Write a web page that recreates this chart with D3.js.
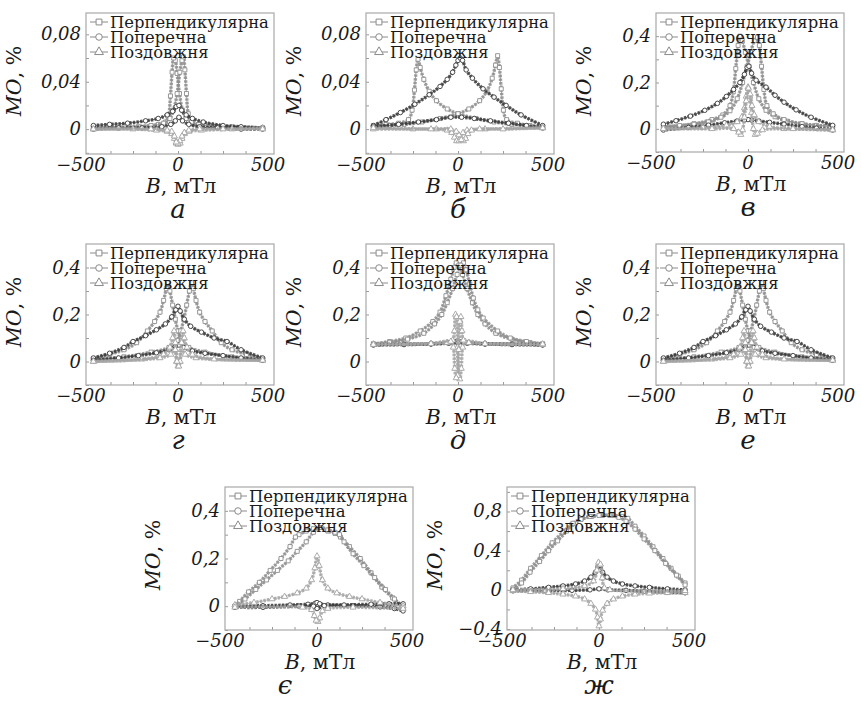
<!DOCTYPE html>
<html>
<head>
<meta charset="utf-8">
<script src="https://cdn.jsdelivr.net/npm/d3@7"></script>
<style>
body { margin: 0; background: #fff; }
svg text { font-family: "DejaVu Serif", serif; fill: #1a1a1a; }
</style>
</head>
<body>
<svg id="fig" width="861" height="702"></svg>
<script>
// series names (legend) and x tick labels
var seriesNames = ["Перпендикулярна", "Поперечна", "Поздовжня"];
var xTickLabels = [-500, 0, 500];

// ---- panel а : [B (мТл), MO (%)] per sweep branch ----
var aPerp = [
  [[470,0.001],[300,0.002],[150,0.003],[80,0.005],[45,0.009],[25,0.016],[8,0.03],[-5,0.047],[-15,0.058],[-24,0.06],[-33,0.048],[-42,0.028],[-52,0.012],[-70,0.006],[-110,0.004],[-220,0.002],[-470,0.001]],
  [[-470,0.001],[-300,0.002],[-150,0.003],[-80,0.005],[-45,0.009],[-25,0.016],[-5,0.03],[10,0.048],[22,0.058],[30,0.061],[38,0.05],[47,0.03],[57,0.013],[75,0.006],[115,0.004],[220,0.002],[470,0.001]]
];
var aTrans = [
  [[-470,0.003],[-380,0.004],[-280,0.005],[-180,0.007],[-110,0.009],[-60,0.012],[-30,0.015],[-10,0.019],[5,0.02],[20,0.016],[45,0.012],[80,0.009],[140,0.006],[250,0.003],[350,0.002],[470,0.001]],
  [[470,0.0],[350,0.0],[220,0.001],[120,0.002],[60,0.004],[25,0.007],[5,0.01],[-15,0.007],[-40,0.004],[-90,0.002],[-200,0.001],[-330,0.001],[-470,0.0]]
];
var aLong = [
  [[-470,0.0],[-250,0.0],[-120,-0.001],[-60,-0.002],[-35,-0.004],[-20,-0.008],[-10,-0.012],[0,-0.013],[12,-0.012],[22,-0.008],[35,-0.004],[60,-0.002],[130,-0.001],[300,0.0],[470,0.001]],
  [[470,0.0],[250,0.0],[120,0.0],[60,-0.001],[35,-0.003],[22,-0.006],[10,-0.01],[0,-0.012],[-10,-0.011],[-20,-0.006],[-35,-0.002],[-60,-0.001],[-150,0.0],[-470,0.0]]
];

// ---- panel б ----
var bPerp = [
  [[470,0.002],[380,0.003],[300,0.004],[200,0.006],[100,0.009],[0,0.013],[-60,0.017],[-120,0.024],[-160,0.032],[-190,0.042],[-210,0.052],[-222,0.059],[-232,0.05],[-242,0.033],[-255,0.016],[-275,0.008],[-330,0.005],[-400,0.004],[-470,0.003]],
  [[-470,0.002],[-380,0.003],[-300,0.004],[-200,0.006],[-100,0.009],[0,0.013],[60,0.017],[120,0.024],[160,0.032],[190,0.043],[208,0.054],[220,0.062],[230,0.052],[240,0.034],[252,0.016],[270,0.008],[330,0.005],[400,0.003],[470,0.002]]
];
var bTrans = [
  [[-470,0.003],[-400,0.008],[-320,0.014],[-240,0.021],[-160,0.029],[-100,0.036],[-60,0.042],[-30,0.048],[-12,0.054],[0,0.058],[12,0.06],[25,0.058],[45,0.05],[80,0.043],[139,0.034],[200,0.027],[267,0.02],[350,0.012],[470,0.003]],
  [[470,0.001],[380,0.003],[280,0.005],[180,0.007],[90,0.009],[20,0.01],[-40,0.01],[-120,0.008],[-220,0.006],[-330,0.004],[-470,0.002]]
];
var bLong = [
  [[-470,0.0],[-250,0.0],[-120,0.0],[-60,-0.001],[-35,-0.003],[-20,-0.007],[-8,-0.01],[5,-0.01],[15,-0.007],[28,-0.003],[50,-0.001],[150,0.0],[470,0.001]],
  [[470,0.001],[250,0.0],[120,0.0],[75,-0.001],[55,-0.004],[42,-0.008],[30,-0.01],[18,-0.009],[5,-0.005],[-10,-0.002],[-40,0.0],[-150,0.0],[-470,0.001]]
];

// ---- panel в ----
var cPerp = [
  [[470,0.01],[380,0.015],[300,0.022],[220,0.033],[150,0.052],[100,0.08],[60,0.13],[30,0.2],[5,0.27],[-15,0.33],[-32,0.38],[-45,0.4],[-55,0.36],[-68,0.26],[-82,0.16],[-100,0.1],[-140,0.06],[-200,0.04],[-300,0.022],[-470,0.008]],
  [[-470,0.008],[-380,0.014],[-300,0.02],[-220,0.03],[-150,0.05],[-100,0.078],[-60,0.13],[-30,0.2],[-5,0.27],[15,0.33],[35,0.38],[52,0.395],[63,0.36],[75,0.27],[88,0.17],[105,0.1],[140,0.065],[200,0.04],[300,0.022],[470,0.01]]
];
var cTrans = [
  [[-470,0.02],[-400,0.035],[-320,0.055],[-240,0.08],[-170,0.11],[-120,0.14],[-80,0.17],[-45,0.2],[-20,0.235],[-5,0.265],[5,0.27],[20,0.24],[45,0.21],[100,0.18],[150,0.145],[200,0.115],[267,0.082],[350,0.05],[470,0.015]],
  [[470,-0.005],[380,0.003],[300,0.01],[200,0.02],[120,0.028],[60,0.034],[20,0.038],[0,0.04],[-20,0.038],[-60,0.034],[-130,0.026],[-220,0.016],[-330,0.006],[-470,-0.005]]
];
var cLong = [
  [[-470,0.0],[-250,0.005],[-120,0.015],[-60,0.03],[-35,0.05],[-20,0.09],[-10,0.14],[0,0.18],[10,0.14],[20,0.07],[30,0.0],[40,-0.025],[52,-0.02],[80,-0.005],[200,0.0],[470,-0.005]],
  [[470,-0.005],[250,0.0],[120,0.01],[60,0.03],[35,0.06],[22,0.1],[12,0.15],[2,0.175],[-10,0.12],[-20,0.05],[-30,-0.005],[-40,-0.025],[-52,-0.015],[-80,0.0],[-200,0.0],[-470,0.0]]
];

// ---- panel г (panel е shows the same curves) ----
var dPerp = [
  [[-470,0.01],[-380,0.03],[-300,0.05],[-230,0.08],[-170,0.13],[-130,0.17],[-100,0.21],[-80,0.26],[-65,0.31],[-55,0.335],[-45,0.3],[-30,0.24],[-15,0.18],[0,0.13],[20,0.09],[60,0.06],[150,0.04],[300,0.02],[470,0.01]],
  [[470,0.01],[380,0.03],[300,0.05],[240,0.08],[190,0.13],[150,0.17],[120,0.21],[100,0.26],[85,0.31],[75,0.335],[63,0.3],[48,0.24],[32,0.18],[15,0.13],[-5,0.09],[-50,0.06],[-150,0.04],[-300,0.02],[-470,0.01]]
];
var dTrans = [
  [[-470,0.015],[-380,0.035],[-300,0.06],[-250,0.085],[-180,0.11],[-120,0.135],[-70,0.16],[-35,0.19],[-12,0.22],[0,0.235],[12,0.215],[35,0.18],[70,0.15],[130,0.125],[200,0.1],[272,0.085],[350,0.05],[470,0.015]],
  [[470,0.005],[350,0.015],[250,0.025],[150,0.035],[80,0.045],[30,0.06],[5,0.07],[-15,0.065],[-50,0.05],[-120,0.037],[-220,0.025],[-330,0.015],[-470,0.005]]
];
var dLong = [
  [[-470,0.0],[-200,0.01],[-80,0.03],[-45,0.06],[-30,0.1],[-22,0.13],[-15,0.08],[-8,0.0],[0,-0.02],[8,0.0],[18,0.05],[40,0.03],[100,0.015],[470,0.005]],
  [[470,0.005],[200,0.01],[80,0.03],[50,0.06],[35,0.1],[28,0.13],[20,0.08],[12,0.0],[4,-0.02],[-6,0.0],[-15,0.05],[-40,0.03],[-100,0.015],[-470,0.0]]
];

// ---- panel д ----
var ePerp = [
  [[-470,0.075],[-380,0.085],[-290,0.1],[-210,0.13],[-140,0.17],[-100,0.21],[-67,0.28],[-40,0.35],[-22,0.4],[-10,0.42],[5,0.41],[25,0.37],[50,0.31],[80,0.25],[110,0.2],[150,0.16],[210,0.12],[300,0.095],[400,0.08],[470,0.075]],
  [[470,0.075],[380,0.085],[290,0.1],[220,0.13],[140,0.185],[110,0.22],[85,0.27],[65,0.33],[45,0.39],[30,0.42],[15,0.41],[-5,0.37],[-30,0.31],[-60,0.25],[-90,0.2],[-130,0.16],[-190,0.12],[-280,0.095],[-380,0.08],[-470,0.075]]
];
var eTrans = [
  [[-470,0.072],[-300,0.074],[-150,0.076],[-60,0.08],[-20,0.085],[0,0.088],[20,0.085],[60,0.08],[150,0.076],[300,0.074],[470,0.072]],
  [[470,0.07],[300,0.072],[150,0.074],[50,0.078],[0,0.08],[-50,0.078],[-150,0.074],[-300,0.072],[-470,0.07]]
];
var eLong = [
  [[-470,0.074],[-150,0.076],[-60,0.08],[-30,0.09],[-20,0.13],[-14,0.2],[-8,0.19],[-3,0.06],[3,-0.06],[10,-0.075],[18,-0.03],[26,0.06],[40,0.085],[150,0.076],[470,0.072]],
  [[470,0.074],[150,0.076],[60,0.08],[30,0.09],[22,0.13],[16,0.19],[10,0.17],[4,0.05],[-3,-0.06],[-10,-0.07],[-18,-0.03],[-26,0.06],[-40,0.085],[-150,0.076],[-470,0.072]]
];

// ---- panel є ----
var gPerp = [
  [[478,0.0],[420,0.035],[360,0.08],[300,0.14],[240,0.2],[180,0.25],[130,0.29],[100,0.305],[60,0.315],[20,0.33],[-20,0.325],[-60,0.315],[-100,0.3],[-120,0.29],[-150,0.25],[-200,0.2],[-260,0.15],[-320,0.1],[-380,0.06],[-430,0.02],[-456,0.0]],
  [[-456,0.0],[-400,0.03],[-340,0.07],[-280,0.11],[-220,0.15],[-160,0.19],[-110,0.23],[-60,0.27],[-20,0.31],[20,0.33],[60,0.32],[100,0.31],[125,0.3],[150,0.27],[200,0.22],[260,0.17],[320,0.12],[380,0.07],[430,0.03],[478,-0.01]]
];
var gTrans = [
  [[-456,0.0],[-300,0.002],[-150,0.005],[-50,0.008],[-10,0.012],[0,0.015],[15,0.01],[60,0.005],[200,0.002],[350,-0.003],[430,-0.01],[478,-0.02]],
  [[478,0.01],[400,0.01],[300,0.008],[150,0.005],[40,0.002],[0,-0.01],[-20,0.0],[-100,0.0],[-300,-0.005],[-456,-0.005]]
];
var gLong = [
  [[-456,0.005],[-350,0.015],[-250,0.03],[-180,0.04],[-110,0.055],[-60,0.075],[-30,0.11],[-12,0.16],[0,0.21],[12,0.17],[30,0.11],[60,0.075],[110,0.055],[180,0.04],[250,0.03],[350,0.015],[478,0.0]],
  [[478,-0.01],[200,-0.005],[60,-0.01],[30,-0.02],[15,-0.05],[5,-0.065],[-5,-0.06],[-15,-0.04],[-30,-0.015],[-80,-0.005],[-456,-0.005]]
];

// ---- panel ж ----
var hPerp = [
  [[478,0.07],[440,0.14],[400,0.22],[355,0.32],[300,0.44],[250,0.55],[200,0.65],[160,0.73],[130,0.75],[80,0.76],[20,0.76],[-40,0.75],[-100,0.72],[-150,0.67],[-200,0.59],[-260,0.48],[-320,0.35],[-380,0.22],[-430,0.1],[-478,0.02]],
  [[-478,0.0],[-430,0.07],[-383,0.18],[-330,0.29],[-280,0.4],[-230,0.5],[-180,0.6],[-144,0.68],[-100,0.72],[-50,0.75],[0,0.76],[60,0.76],[110,0.74],[150,0.7],[200,0.62],[250,0.52],[310,0.4],[370,0.27],[430,0.15],[478,0.05]]
];
var hTrans = [
  [[-478,0.0],[-380,0.01],[-280,0.025],[-200,0.04],[-130,0.06],[-80,0.09],[-45,0.13],[-20,0.18],[-5,0.24],[5,0.25],[20,0.18],[45,0.13],[80,0.09],[130,0.06],[200,0.04],[280,0.025],[380,0.01],[478,0.0]],
  [[478,-0.03],[380,-0.025],[250,-0.015],[150,-0.005],[50,0.0],[0,0.01],[-50,0.0],[-150,-0.005],[-300,-0.01],[-478,-0.01]]
];
var hLong = [
  [[-478,-0.01],[-380,-0.02],[-280,-0.03],[-200,-0.045],[-130,-0.065],[-80,-0.095],[-45,-0.14],[-20,-0.2],[-8,-0.28],[0,-0.37],[8,-0.3],[20,-0.21],[45,-0.14],[80,-0.095],[130,-0.065],[200,-0.045],[280,-0.035],[380,-0.03],[478,-0.03]],
  [[-478,0.0],[-200,0.01],[-80,0.04],[-30,0.09],[-12,0.2],[-3,0.28],[8,0.26],[18,0.12],[30,0.02],[60,0.0],[478,-0.01]]
];

// layout of the 8 panels
var panels = [
  { letter: "а", left: 86,  top: 13,  h: 141, yDomain: [-0.021, 0.098], yTicks: [0, 0.04, 0.08], yMinor: 0.02, data: [aPerp, aTrans, aLong] },
  { letter: "б", left: 366, top: 13,  h: 141, yDomain: [-0.021, 0.098], yTicks: [0, 0.04, 0.08], yMinor: 0.02, data: [bPerp, bTrans, bLong] },
  { letter: "в", left: 656, top: 13,  h: 139, yDomain: [-0.1, 0.5], yTicks: [0, 0.2, 0.4], yMinor: 0.1, data: [cPerp, cTrans, cLong] },
  { letter: "г", left: 86,  top: 244, h: 141, yDomain: [-0.1, 0.5], yTicks: [0, 0.2, 0.4], yMinor: 0.1, data: [dPerp, dTrans, dLong] },
  { letter: "д", left: 366, top: 244, h: 141, yDomain: [-0.1, 0.5], yTicks: [0, 0.2, 0.4], yMinor: 0.1, data: [ePerp, eTrans, eLong] },
  { letter: "е", left: 656, top: 244, h: 141, yDomain: [-0.1, 0.5], yTicks: [0, 0.2, 0.4], yMinor: 0.1, data: [dPerp, dTrans, dLong] },
  { letter: "є", left: 225, top: 487, h: 143, yDomain: [-0.1, 0.5], yTicks: [0, 0.2, 0.4], yMinor: 0.1, data: [gPerp, gTrans, gLong], letterDx: -32 },
  { letter: "ж", left: 507, top: 487, h: 143, yDomain: [-0.41, 1.05], yTicks: [-0.4, 0, 0.4, 0.8], yMinor: 0.2, data: [hPerp, hTrans, hLong] }
];

var W = 188;
var colors = ["#8e8e8e", "#3a3a3a", "#a4a4a4"];
var symbols = [d3.symbolSquare, d3.symbolCircle, d3.symbolTriangle];

function fmt(v) {
  return String(+v.toFixed(3)).replace(".", ",").replace("-", "\u2212");
}

var svg = d3.select("#fig");
svg.append("rect").attr("width", 861).attr("height", 702).attr("fill", "#fff");

panels.forEach(function (p, pi) {
  var x = d3.scaleLinear().domain([-511, 533]).range([p.left, p.left + W]);
  var y = d3.scaleLinear().domain(p.yDomain).range([p.top + p.h, p.top]);
  var g = svg.append("g");

  var clipId = "clip" + pi;
  svg.append("clipPath").attr("id", clipId)
    .append("rect").attr("x", p.left).attr("y", p.top).attr("width", W).attr("height", p.h);

  // inner ticks
  var bx = g.append("g").attr("transform", "translate(0," + (p.top + p.h) + ")")
    .call(d3.axisBottom(x).tickValues([-375, -250, -125, 0, 125, 250, 375]).tickSize(-3).tickFormat(""));
  var minor = d3.range(Math.ceil(p.yDomain[0] / p.yMinor) * p.yMinor, p.yDomain[1], p.yMinor);
  var ly = g.append("g").attr("transform", "translate(" + p.left + ",0)")
    .call(d3.axisLeft(y).tickValues(minor).tickSize(-3).tickFormat(""));
  [bx, ly].forEach(function (a) {
    a.select(".domain").remove();
    a.selectAll("line").attr("stroke", "#999");
  });

  // curves
  var line = d3.line().x(function (d) { return x(d[0]); }).y(function (d) { return y(d[1]); })
    .curve(d3.curveCatmullRom.alpha(0.5));
  var plot = g.append("g").attr("clip-path", "url(#" + clipId + ")");
  p.data.forEach(function (series, si) {
    series.forEach(function (branch) {
      plot.append("path").datum(branch)
        .attr("d", line)
        .attr("fill", "none")
        .attr("stroke", colors[si])
        .attr("stroke-width", 3.4)
        .attr("stroke-dasharray", "2.4 1.2")
        .attr("opacity", 0.85);
      plot.append("path").datum(branch)
        .attr("d", line)
        .attr("fill", "none")
        .attr("stroke", colors[si])
        .attr("stroke-width", 0.8);
      plot.selectAll(null).data(branch).enter().append("path")
        .attr("d", d3.symbol().type(symbols[si]).size(16))
        .attr("transform", function (d) { return "translate(" + x(d[0]) + "," + y(d[1]) + ")"; })
        .attr("fill", "#fff")
        .attr("stroke", colors[si])
        .attr("stroke-width", 0.9);
    });
  });

  // frame
  g.append("rect").attr("x", p.left).attr("y", p.top).attr("width", W).attr("height", p.h)
    .attr("fill", "none").attr("stroke", "#a8a8a8").attr("stroke-width", 1.2);

  // legend (rows are tight, as in the original)
  seriesNames.forEach(function (name, si) {
    var cy = p.top + 9 + 15 * si;
    g.append("line").attr("x1", p.left + 4).attr("x2", p.left + 22).attr("y1", cy).attr("y2", cy)
      .attr("stroke", "#8a8a8a").attr("stroke-width", 1);
    g.append("path").attr("d", d3.symbol().type(symbols[si]).size(34))
      .attr("transform", "translate(" + (p.left + 13) + "," + cy + ")")
      .attr("fill", "#fff").attr("stroke", "#8a8a8a").attr("stroke-width", 1);
    g.append("text").attr("x", p.left + 24).attr("y", cy + 5.5)
      .attr("font-size", 16.4).text(name);
  });

  // y tick labels
  p.yTicks.forEach(function (v) {
    g.append("text").attr("x", p.left - 5).attr("y", y(v) + 6)
      .attr("text-anchor", "end").attr("font-size", 18).attr("font-style", "italic")
      .text(fmt(v));
  });
  // x tick labels
  xTickLabels.forEach(function (v) {
    g.append("text").attr("x", x(v) + (v < 0 ? -7 : 0)).attr("y", p.top + p.h + 17)
      .attr("text-anchor", "middle").attr("font-size", 18).attr("font-style", "italic")
      .text(fmt(v));
  });

  // axis titles
  var xt = g.append("text").attr("x", x(0) + 3).attr("y", p.top + p.h + 39)
    .attr("text-anchor", "middle").attr("font-size", 20.5);
  xt.append("tspan").attr("font-style", "italic").text("B");
  xt.append("tspan").text(", мТл");

  var yt = g.append("text")
    .attr("transform", "translate(" + (p.left - 65) + "," + (p.top + 68) + ") rotate(-90)")
    .attr("text-anchor", "middle").attr("font-size", 20.5);
  yt.append("tspan").attr("font-style", "italic").text("MO");
  yt.append("tspan").text(", %");

  // sub-figure letter
  g.append("text").attr("x", x(0) + (p.letterDx || 0)).attr("y", p.top + p.h + 64)
    .attr("text-anchor", "middle").attr("font-size", 26).attr("font-style", "italic")
    .text(p.letter);
});
</script>
</body>
</html>
